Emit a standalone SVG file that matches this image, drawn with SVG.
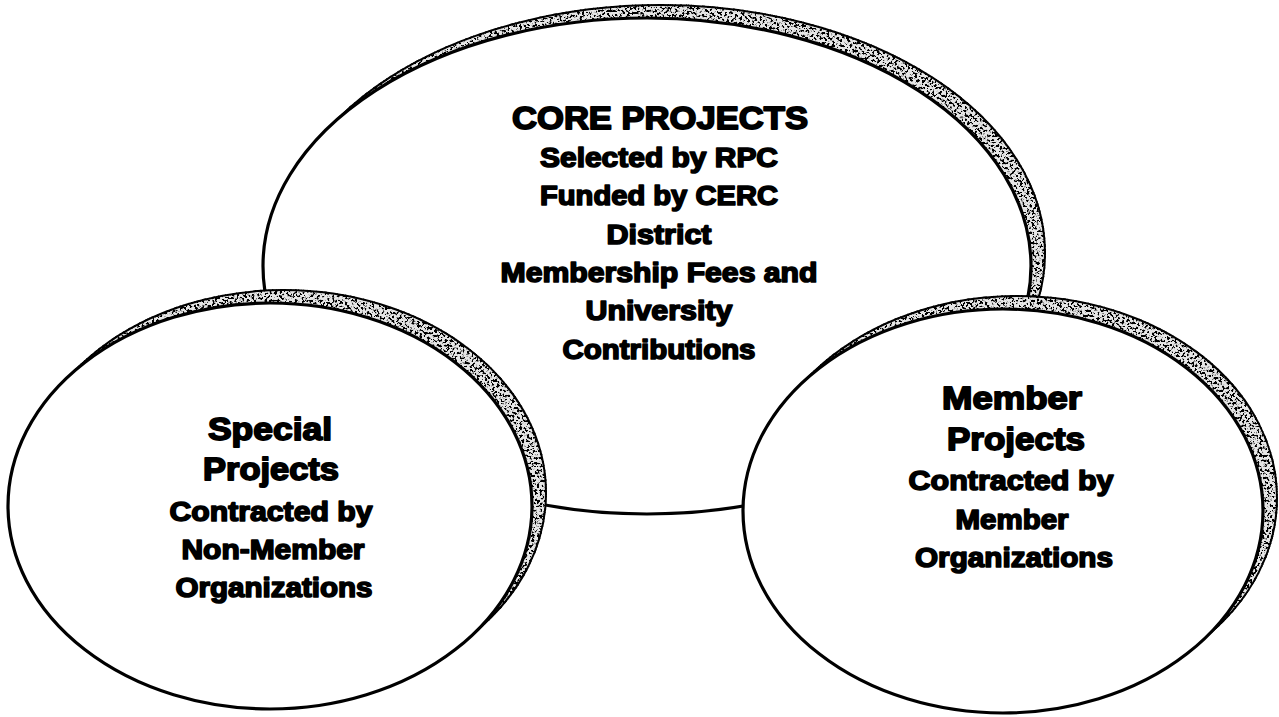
<svg xmlns="http://www.w3.org/2000/svg" width="1279" height="717" viewBox="0 0 1279 717">
  <defs>
    <!-- speckled grey texture for the raised rims -->
    <filter id="grain" x="-5%" y="-5%" width="110%" height="110%">
      <feTurbulence type="fractalNoise" baseFrequency="0.4" numOctaves="3" seed="7" result="noise"/>
      <feColorMatrix in="noise" type="matrix" values="0 0 0 0 0  0 0 0 0 0  0 0 0 0 0  -10 0 0 0 5.1" result="specks"/>
      <feComposite in="specks" in2="SourceGraphic" operator="in" result="dots"/>
      <feMerge>
        <feMergeNode in="SourceGraphic"/>
        <feMergeNode in="dots"/>
      </feMerge>
    </filter>
  </defs>
  <style>
    .rim { fill: #e6e6e6; stroke: #000; stroke-width: 2; filter: url(#grain); }
    .face { fill: #fff; stroke: #000; stroke-width: 3.2; }
    .t { font-family: "Liberation Sans", Arial, sans-serif; font-weight: bold; fill: #000; stroke: #000; stroke-linejoin: round; text-anchor: middle; }
    .h { font-size: 32px; stroke-width: 1.8; }
    .s { font-size: 27px; stroke-width: 1.6; }
  </style>

  <rect width="1279" height="717" fill="#fff"/>

  <g id="core-projects">
    <ellipse class="rim" cx="661" cy="253" rx="384" ry="248"/>
    <ellipse class="face" cx="647" cy="266" rx="384" ry="248"/>
    <text class="t h" x="660" y="129" textLength="296" lengthAdjust="spacingAndGlyphs">CORE PROJECTS</text>
    <text class="t s" x="659" y="167" textLength="238" lengthAdjust="spacingAndGlyphs">Selected by RPC</text>
    <text class="t s" x="659" y="205" textLength="238" lengthAdjust="spacingAndGlyphs">Funded by CERC</text>
    <text class="t s" x="659" y="244" textLength="105" lengthAdjust="spacingAndGlyphs">District</text>
    <text class="t s" x="659" y="282" textLength="317" lengthAdjust="spacingAndGlyphs">Membership Fees and</text>
    <text class="t s" x="659" y="320" textLength="147" lengthAdjust="spacingAndGlyphs">University</text>
    <text class="t s" x="659" y="359" textLength="193" lengthAdjust="spacingAndGlyphs">Contributions</text>
  </g>

  <g id="special-projects">
    <ellipse class="rim" cx="284" cy="493" rx="262" ry="203"/>
    <ellipse class="face" cx="270" cy="506" rx="262" ry="203"/>
    <text class="t h" x="270" y="440" textLength="124" lengthAdjust="spacingAndGlyphs">Special</text>
    <text class="t h" x="271" y="480" textLength="136" lengthAdjust="spacingAndGlyphs">Projects</text>
    <text class="t s" x="271" y="521" textLength="203" lengthAdjust="spacingAndGlyphs">Contracted by</text>
    <text class="t s" x="273" y="559" textLength="183" lengthAdjust="spacingAndGlyphs">Non-Member</text>
    <text class="t s" x="274" y="597" textLength="197" lengthAdjust="spacingAndGlyphs">Organizations</text>
  </g>

  <g id="member-projects">
    <ellipse class="rim" cx="1017" cy="498" rx="260" ry="202"/>
    <ellipse class="face" cx="1003" cy="511" rx="260" ry="202"/>
    <text class="t h" x="1012" y="409" textLength="140" lengthAdjust="spacingAndGlyphs">Member</text>
    <text class="t h" x="1016" y="450" textLength="138" lengthAdjust="spacingAndGlyphs">Projects</text>
    <text class="t s" x="1011" y="490" textLength="205" lengthAdjust="spacingAndGlyphs">Contracted by</text>
    <text class="t s" x="1012" y="529" textLength="113" lengthAdjust="spacingAndGlyphs">Member</text>
    <text class="t s" x="1014" y="567" textLength="198" lengthAdjust="spacingAndGlyphs">Organizations</text>
  </g>

  <g id="connectors"/>
</svg>
